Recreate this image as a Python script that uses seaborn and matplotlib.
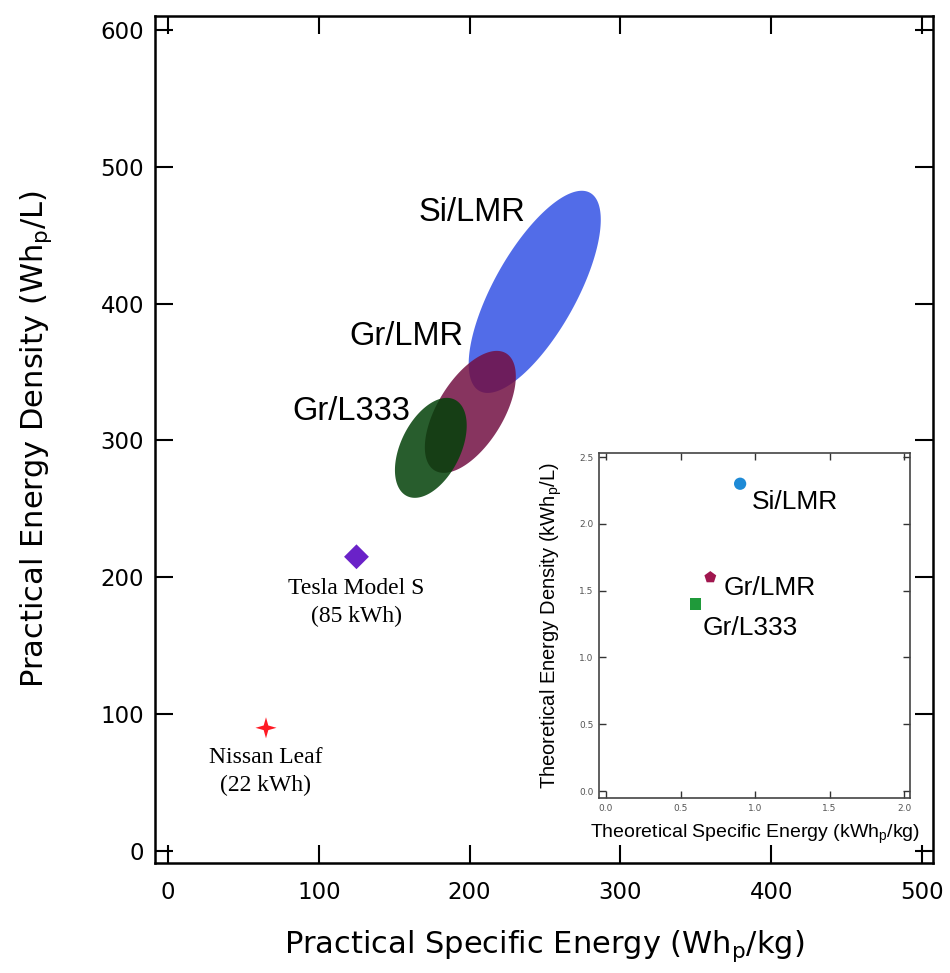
import numpy as np
import pandas as pd
import matplotlib
matplotlib.use("Agg")
import matplotlib.pyplot as plt
import seaborn as sns

# ---------------- data ----------------
# Practical-energy regions (ellipses) for the three chemistries
chem_names = ["Si/LMR", "Gr/LMR", "Gr/L333"]
ell_cx = [243.2, 200.5, 174.3]          # centre, Wh_p/kg
ell_cy = [408.6, 320.9, 294.6]          # centre, Wh_p/L
ell_major_dx = [36.7, 23.75, 15.9]     # half major axis vector (data units)
ell_major_dy = [72.4, 42.76, 35.2]
ell_minor_dx = [-23.9, -18.59, -17.7]  # half minor axis vector (data units)
ell_minor_dy = [14.7, 12.57, 9.75]

# Vehicle packs
car_names = ["Tesla Model S\n(85 kWh)", "Nissan Leaf\n(22 kWh)"]
car_energy = [125, 65]      # Wh_p/kg
car_density = [215, 90]     # Wh_p/L

# Inset: theoretical values
th_names = ["Si/LMR", "Gr/LMR", "Gr/L333"]
th_energy = [0.9, 0.7, 0.6]     # kWh_p/kg
th_density = [2.3, 1.6, 1.4]    # kWh_p/L

main_xticks = [0, 100, 200, 300, 400, 500]
main_yticks = [0, 100, 200, 300, 400, 500, 600]
inset_xticks = [0.0, 0.5, 1.0, 1.5, 2.0]
inset_yticks = [0.0, 0.5, 1.0, 1.5, 2.0, 2.5]

# ---------------- style ----------------
sns.set_style("white")
plt.rcParams["font.family"] = ["DejaVu Sans"]
plt.rcParams["text.color"] = "black"
plt.rcParams["axes.labelcolor"] = "black"

ell_colors = [(52/255, 82/255, 228/255), (114/255, 16/255, 67/255), (2/255, 64/255, 8/255)]
car_colors = ["#6a22c8", "#ff1a24"]
star = [(0, 1), (0.22, 0.22), (1, 0), (0.22, -0.22), (0, -1), (-0.22, -0.22), (-1, 0), (-0.22, 0.22), (0, 1)]
car_markers = ["D", star]
car_sizes = [160, 230]
th_colors = ["#1e8ad6", "#a0164e", "#1f9a3a"]
th_markers = ["o", "p", "s"]
th_sizes = [78, 80, 66]

W, H = 950, 973
fig = plt.figure(figsize=(W / 100, H / 100), dpi=100)
ax = fig.add_axes([155 / W, 1 - 863 / H, 778 / W, 847 / H])

# ellipses
t = np.linspace(0, 2 * np.pi, 300)
for i in range(len(chem_names)):
    ex = ell_cx[i] + ell_major_dx[i] * np.cos(t) + ell_minor_dx[i] * np.sin(t)
    ey = ell_cy[i] + ell_major_dy[i] * np.cos(t) + ell_minor_dy[i] * np.sin(t)
    ax.fill(ex, ey, color=ell_colors[i], alpha=0.85, lw=0, zorder=2 + i)

# chemistry labels
chem_label_pos = [(166.3, 466.4), (120.6, 375.7), (82.2, 320.9)]
for name, (lx, ly) in zip(chem_names, chem_label_pos):
    ax.text(lx, ly, name, fontsize=23.5, family="Liberation Sans", color="black",
            ha="left", va="center", zorder=6)

# cars
cars = pd.DataFrame({"energy": car_energy, "density": car_density, "name": car_names})
car_offsets = [-15, -14]
for i, row in cars.iterrows():
    sns.scatterplot(x=[row.energy], y=[row.density], ax=ax, marker=car_markers[i],
                    color=car_colors[i], s=car_sizes[i], edgecolor="none", zorder=7, legend=False)
    ax.annotate(row["name"], (row.energy, row.density), xytext=(0, car_offsets[i]),
                textcoords="offset points", ha="center", va="top", fontsize=17,
                family="Liberation Serif", linespacing=1.42, color="black", zorder=7)

ax.set_xlim(-8.6, 507.3)
ax.set_ylim(-8.8, 610.2)
ax.set_xticks(main_xticks)
ax.set_yticks(main_yticks)
ax.tick_params(axis="both", which="major", direction="in", length=13, width=1.5,
               bottom=True, left=True, top=True, right=True, labelsize=16.5,
               colors="black")
ax.tick_params(axis="x", pad=13)
ax.tick_params(axis="y", pad=8)
for sp in ax.spines.values():
    sp.set_linewidth(1.8)
    sp.set_color("black")
ax.set_xlabel("Practical Specific Energy (Wh$_\\mathregular{p}$/kg)", fontsize=22, labelpad=17)
ax.set_ylabel("Practical Energy Density (Wh$_\\mathregular{p}$/L)", fontsize=22, labelpad=33)

# ---------------- inset ----------------
axi = fig.add_axes([599 / W, 1 - 798 / H, 311 / W, 345 / H])
th = pd.DataFrame({"energy": th_energy, "density": th_density, "name": th_names})
for i, row in th.iterrows():
    sns.scatterplot(x=[row.energy], y=[row.density], ax=axi, marker=th_markers[i],
                    color=th_colors[i], s=th_sizes[i], edgecolor="none", zorder=5, legend=False)
th_label_pos = [(0.98, 2.163), (0.792, 1.519), (0.651, 1.22)]
for name, (lx, ly) in zip(th_names, th_label_pos):
    axi.text(lx, ly, name, fontsize=19, family="Liberation Sans", color="black",
             ha="left", va="center")

axi.set_xlim(-0.047, 2.04)
axi.set_ylim(-0.052, 2.53)
axi.set_xticks(inset_xticks)
axi.set_yticks(inset_yticks)
axi.set_xticklabels([f"{v:.1f}" for v in inset_xticks])
axi.set_yticklabels([f"{v:.1f}" for v in inset_yticks])
axi.tick_params(axis="both", direction="in", length=5, width=1, bottom=True, left=True,
                top=True, right=True, labelsize=6.5, labelcolor="#555555",
                color="#333333", pad=4)
for sp in axi.spines.values():
    sp.set_linewidth(1.2)
    sp.set_color("#444444")
axi.set_xlabel("Theoretical Specific Energy (kWh$_\\mathregular{p}$/kg)", fontsize=14,
               family="Liberation Sans", labelpad=7)
axi.set_ylabel("Theoretical Energy Density (kWh$_\\mathregular{p}$/L)", fontsize=14.5,
               family="Liberation Sans", labelpad=11)

fig.savefig("out.png", dpi=100)
